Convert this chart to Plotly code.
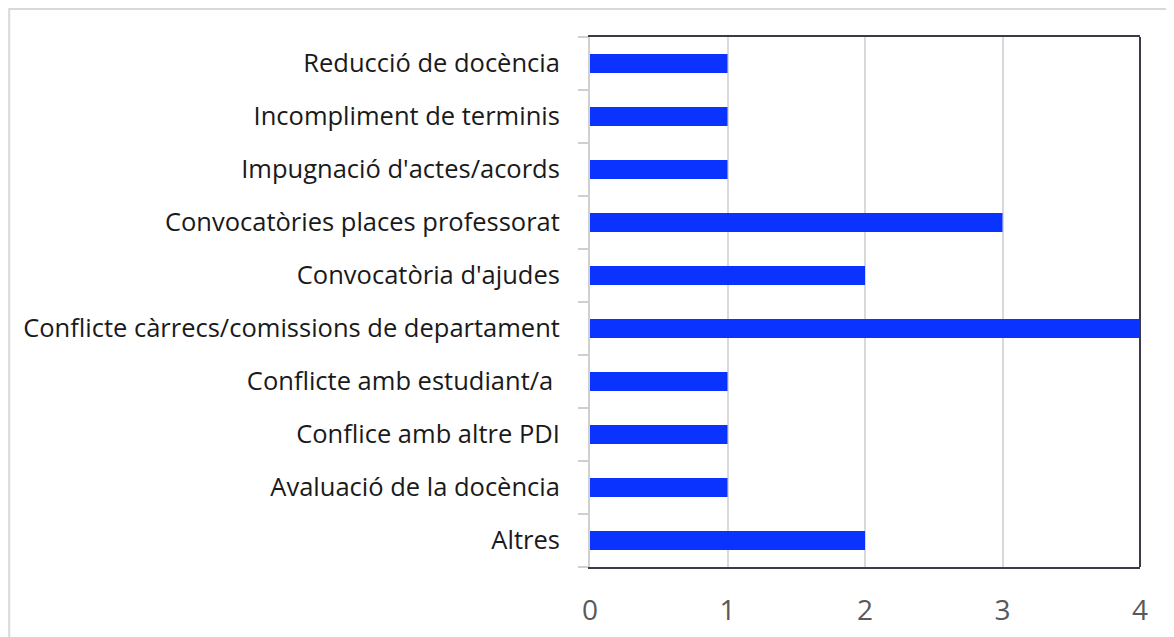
import plotly.graph_objects as go

# categories listed bottom to top, as plotly draws them
categories = [
    "Altres",
    "Avaluació de la docència",
    "Conflice amb altre PDI",
    "Conflicte amb estudiant/a\u00a0",
    "Conflicte càrrecs/comissions de departament",
    "Convocatòria d'ajudes",
    "Convocatòries places professorat",
    "Impugnació d'actes/acords",
    "Incompliment de terminis",
    "Reducció de docència",
]
counts = [2, 1, 1, 1, 4, 2, 3, 1, 1, 1]
x_ticks = [0, 1, 2, 3, 4]

font_family = "Open Sans, Noto Sans, sans-serif"

fig = go.Figure(go.Bar(
    x=counts,
    y=categories,
    orientation='h',
    marker=dict(color='#0a33ff', line=dict(width=0)),
))

# page body adds ~8px, so the figure is shrunk by that much
fig.update_layout(
    width=1166, height=629,
    margin=dict(l=582, r=34, t=29, b=70),
    paper_bgcolor='white', plot_bgcolor='white',
    bargap=0.64,
    showlegend=False,
    font=dict(family=font_family),
    shapes=[
        # outer chart frame (clipped on the right and bottom)
        dict(type='rect', xref='paper', yref='paper',
             x0=-1.056, x1=1.2, y0=-0.3, y1=1.053,
             line=dict(color='#d9d9d9', width=2), layer='below'),
        # right border of plot area
        dict(type='line', xref='paper', yref='paper',
             x0=1, x1=1, y0=0, y1=1,
             line=dict(color='#3b3b45', width=2)),
    ],
)

fig.update_xaxes(
    range=[0, 4],
    tickvals=x_ticks,
    automargin=False,
    showgrid=True, gridcolor='#d9d9d9', gridwidth=1.5,
    zeroline=False,
    showline=True, mirror=True, linecolor='#3b3b45', linewidth=2,
    ticks='', ticklabelstandoff=17,
    tickfont=dict(size=28, color='#595959', family=font_family),
)
fig.update_yaxes(
    type='category',
    categoryorder='array', categoryarray=categories,
    automargin=False,
    showgrid=False, zeroline=False,
    showline=True, linecolor='#d0d0d0', linewidth=2,
    ticks='outside', tickson='boundaries', ticklen=10,
    tickcolor='#d0d0d0', tickwidth=1.5,
    ticklabelstandoff=23,
    tickfont=dict(size=25.5, color='#1a1a1a', family=font_family),
)

fig.write_html("out.html")
